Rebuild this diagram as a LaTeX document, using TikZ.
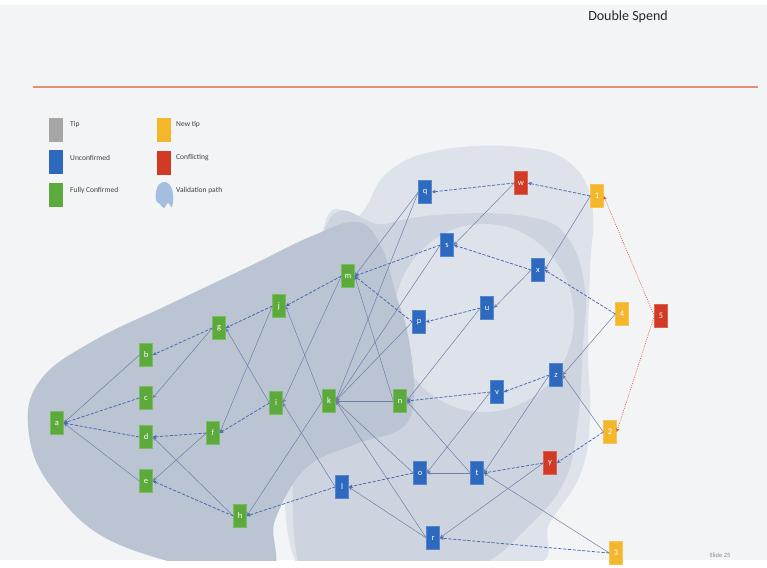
\documentclass[tikz,border=0pt]{standalone}
\usepackage{fontspec}
\setmainfont{Carlito}
\usetikzlibrary{arrows.meta}
\definecolor{slidebg}{HTML}{F3F4F6}
\definecolor{pathlight}{HTML}{DEE3EB}
\definecolor{pathmid}{HTML}{CDD4E0}
\definecolor{pathdark}{HTML}{BAC4D3}
\definecolor{txgreen}{HTML}{5DAA3C}
\definecolor{txblue}{HTML}{2C69BF}
\definecolor{txred}{HTML}{D33A26}
\definecolor{txyellow}{HTML}{F4B72C}
\definecolor{txgrey}{HTML}{A6A6A6}
\definecolor{edgeblue}{HTML}{4468B0}
\definecolor{edgegrey}{HTML}{6E7FA6}
\definecolor{conflictred}{HTML}{E0533A}
\definecolor{rulered}{HTML}{E78C76}
\definecolor{iconblue}{HTML}{A3BEDF}
\tikzset{
  tx/.style={rectangle, minimum width=13pt, minimum height=23pt, inner sep=0pt,
    font=\fontsize{8.5}{8.5}\selectfont, text=white},
  green tx/.style={tx, fill=txgreen, draw=txgreen!80!white, line width=0.4pt},
  blue tx/.style={tx, fill=txblue, draw=txblue!80!white, line width=0.4pt},
  red tx/.style={tx, fill=txred, draw=txred!80!white, line width=0.4pt},
  yellow tx/.style={tx, fill=txyellow, draw=txyellow!80!white, line width=0.4pt},
  key/.style={rectangle, minimum width=14pt, minimum height=24pt, inner sep=0pt},
  keytext/.style={anchor=west, font=\fontsize{7.5}{8}\selectfont, text=black!75, inner sep=0pt},
  trunk/.style={draw=edgeblue, line width=0.75pt, dash pattern=on 3.2pt off 1.6pt,
    -{Stealth[length=4pt,width=3.5pt]}},
  branch/.style={draw=edgegrey, line width=0.5pt, -{Stealth[length=4pt,width=3.5pt]}},
  conflict/.style={draw=conflictred, line width=0.6pt, dash pattern=on 1pt off 1.2pt,
    -{Stealth[length=4pt,width=3.5pt]}}
}
\begin{document}
\begin{tikzpicture}[x=1pt,y=-1pt]
\useasboundingbox (0,0) rectangle (767,567);
% slide background
\fill[white] (0,0) rectangle (767,567);
\fill[slidebg] (0,5) rectangle (767,560);

% title and rule
\node[font=\fontsize{14}{14}\selectfont, text=black!85] (title) at (628,17) {Double Spend};
\draw[rulered, line width=1.8pt] (33,87) -- (758,87);

% legend
\node[key, fill=txgrey] (kt) at (56,130) {};
\node[keytext] (ktt) at (70,125) {Tip};
\node[key, fill=txblue] (ku) at (56,162) {};
\node[keytext] (kut) at (70,158) {Unconfirmed};
\node[key, fill=txgreen] (kc) at (56,195) {};
\node[keytext] (kct) at (70,190) {Fully Confirmed};
\node[key, fill=txyellow] (kn) at (164,130) {};
\node[keytext] (knt) at (176,125) {New tip};
\node[key, fill=txred] (kx) at (164,163) {};
\node[keytext] (kxt) at (176,158) {Conflicting};
\fill[iconblue] plot[smooth cycle, tension=0.7] coordinates
  {(156,200) (157,188) (163,182) (170,185) (173,195) (172,207) (168,203) (164,208) (160,204)};
\node[keytext] (kvt) at (176,190) {Validation path};

% validation path regions
\begin{scope}
\clip (0,5) rectangle (767,560);
\fill[pathlight] plot[smooth cycle, tension=0.7] coordinates
  {(320,245) (360,215) (388,172) (440,150) (520,147) (570,163) (592,205) (590,270)
   (588,350) (590,420) (580,475) (550,522) (520,570) (300,570)};
\fill[pathmid] plot[smooth cycle, tension=0.7] coordinates
  {(320,245) (385,224) (450,214) (530,217) (568,238) (585,290) (583,345) (578,420)
   (565,480) (530,525) (480,565) (420,570) (300,570)};
\fill[pathlight] (484,318) ellipse[x radius=90pt, y radius=94pt];
\fill[pathdark] plot[smooth cycle, tension=0.65] coordinates
  {(28,425) (42,378) (95,340) (170,304) (250,266) (312,236) (358,222) (382,248)
   (396,295) (408,335) (414,395) (402,428) (356,444) (306,468) (275,520) (262,575)
   (120,545) (50,485)};
\end{scope}

% transactions
\node[green tx] (a) at (57,423) {a};
\node[green tx] (b) at (146,355) {b};
\node[green tx] (c) at (146,398) {c};
\node[green tx] (d) at (146,437) {d};
\node[green tx] (e) at (146,481) {e};
\node[green tx] (f) at (213,433) {f};
\node[green tx] (g) at (219,328) {g};
\node[green tx] (h) at (240,516) {h};
\node[green tx] (i) at (276,403) {i};
\node[green tx] (j) at (279,306) {j};
\node[green tx] (k) at (329,401) {k};
\node[blue tx] (l) at (342,487) {l};
\node[green tx] (m) at (348,276) {m};
\node[green tx] (n) at (400,401) {n};
\node[blue tx] (o) at (420,473) {o};
\node[blue tx] (p) at (419,322) {p};
\node[blue tx] (q) at (425,192) {q};
\node[blue tx] (r) at (433,538) {r};
\node[blue tx] (s) at (447,245) {s};
\node[blue tx] (t) at (477,473) {t};
\node[blue tx] (u) at (487,308) {u};
\node[blue tx] (v) at (497,392) {v};
\node[red tx] (w) at (521,183) {w};
\node[blue tx] (x) at (538,270) {x};
\node[red tx] (y) at (550,463) {y};
\node[blue tx] (z) at (556,375) {z};
\node[yellow tx] (t1) at (597,196) {1};
\node[yellow tx] (t2) at (610,432) {2};
\node[yellow tx] (t3) at (616,553) {3};
\node[yellow tx] (t4) at (622,314) {4};
\node[red tx] (t5) at (661,316) {5};

% approvals
\foreach \s/\t in {b/a, e/a, g/c, f/e, h/d, i/g, j/f, k/j, k/h, l/i, m/i, n/k, n/m,
  o/k, p/k, q/m, q/k, r/l, r/k, s/k, t/o, t/n, u/n, v/o, w/s, x/u, y/r, z/t,
  t1/x, t2/z, t3/t, t4/z}
  \draw[branch] (\s.west) -- (\t.east);
\foreach \s/\t in {c/a, d/a, g/b, f/d, h/e, i/f, j/g, l/h, m/j, o/l, p/m, s/m,
  u/p, v/n, w/q, x/s, y/t, z/v, t1/w, t2/y, t3/r, t4/x}
  \draw[trunk] (\s.west) -- (\t.east);
\draw[conflict] (t5.west) -- (t1.east);
\draw[conflict] (t5.west) -- (t2.east);

% footer
\node[font=\fontsize{6.5}{7}\selectfont, text=black!45] (slideno) at (720,555) {Slide 25};
\end{tikzpicture}
\end{document}
